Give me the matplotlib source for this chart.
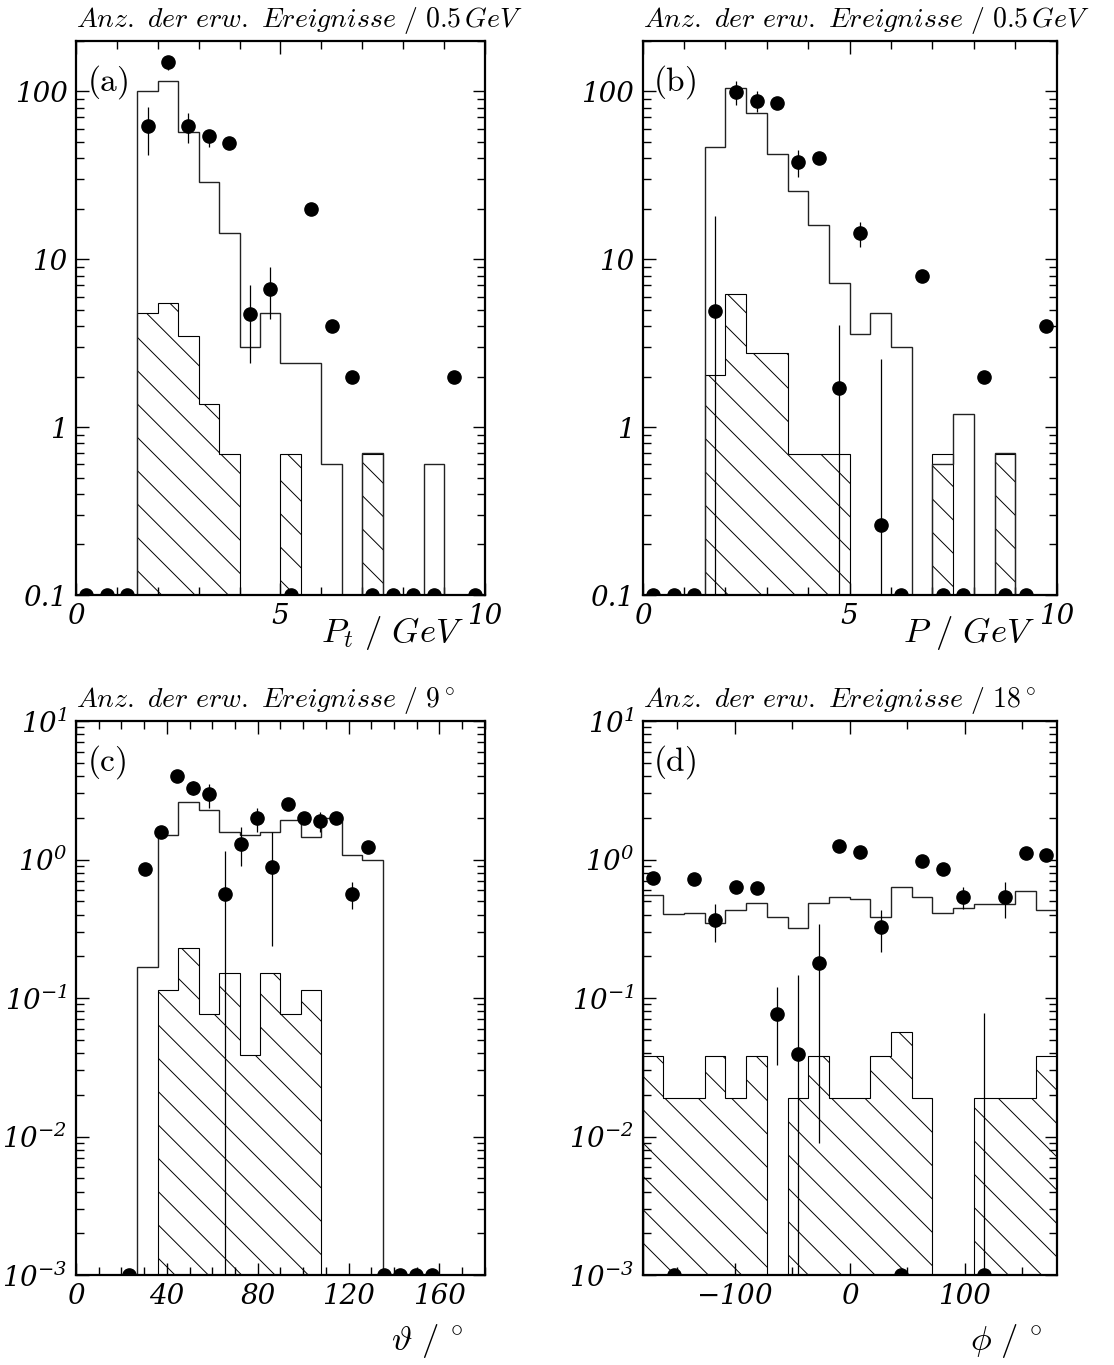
import numpy as np
import matplotlib
matplotlib.use("Agg")
import matplotlib.pyplot as plt
from matplotlib.ticker import FixedLocator, FixedFormatter, LogLocator, NullFormatter

# Tick-Beschriftungen kursiv (custom mathtext), sonstige Texte in Computer Modern
plt.rcParams['mathtext.fontset'] = 'custom'
plt.rcParams['mathtext.rm'] = 'DejaVu Serif:italic'
plt.rcParams['mathtext.it'] = 'DejaVu Serif:italic'
plt.rcParams['font.family'] = 'DejaVu Serif'
plt.rcParams['font.style'] = 'italic'
plt.rcParams['hatch.linewidth'] = 0.7
nan = np.nan

# =========================
# (a) Transversalimpuls, 0.5 GeV Bins
# =========================
pt_edges = np.arange(0, 10.01, 0.5)
pt_mc = [0, 0, 0, 101, 115, 57, 29, 14.4, 3.0, 4.8, 2.4, 2.4, 0.6, 0, 0.7, 0, 0, 0.6, 0, 0]
pt_bg = [0, 0, 0, 4.8, 5.5, 3.5, 1.38, 0.69, 0, 0, 0.69, 0, 0, 0, 0.69, 0, 0, 0, 0, 0]
pt_data = [0, 0, 0, 62, 150, 62, 54, 49, 4.7, 6.7, 0, 20, 4, 2, 0, 0, 0, 0, 2, 0]
pt_lo = [nan, nan, nan, 42, 135, 49, 47, nan, 2.4, 4.4, nan, nan, nan, nan, nan, nan, nan, nan, nan, nan]
pt_hi = [nan, nan, nan, 81, 161, 74, 59, nan, 7.0, 9.0, nan, nan, nan, nan, nan, nan, nan, nan, nan, nan]

# =========================
# (b) Impuls, 0.5 GeV Bins
# =========================
p_edges = np.arange(0, 10.01, 0.5)
p_mc = [0, 0, 0, 46.6, 105, 74, 42.6, 25.6, 16.1, 7.2, 3.6, 4.8, 3.0, 0, 0.6, 1.2, 0, 0.7, 0, 0]
p_bg = [0, 0, 0, 2.04, 6.2, 2.76, 2.76, 0.69, 0.69, 0.69, 0, 0, 0, 0, 0.69, 0, 0, 0.69, 0, 0]
p_data = [0, 0, 0, 4.9, 99, 88, 85, 38, 40, 1.7, 14.3, 0.26, 0, 8, 0, 0, 2, 0, 0, 4]
p_lo = [nan, nan, nan, 0, 83, 75, nan, 31, nan, 0, 11.8, 0, nan, nan, nan, nan, nan, nan, nan, nan]
p_hi = [nan, nan, nan, 18, 115, 100, nan, 45, nan, 4.05, 16.8, 2.55, nan, nan, nan, nan, nan, nan, nan, nan]

# =========================
# (c) Polarwinkel, 9 Grad Bins
# =========================
th_edges = np.arange(0, 181, 9)
th_mc = [0, 0, 0, 0.167, 1.51, 2.59, 2.28, 1.57, 1.50, 1.57, 1.93, 1.45, 2.0, 1.08, 1.0, 0, 0, 0, 0, 0]
th_bg = [0, 0, 0, 0, 0.115, 0.229, 0.077, 0.152, 0.0385, 0.152, 0.077, 0.115, 0, 0, 0, 0, 0, 0, 0, 0]
th_x = [23.5, 30.5, 37.5, 44.5, 51.5, 58.5, 65.5, 72.5, 79.5, 86.5,
        93.5, 100.5, 107.5, 114.5, 121.5, 128.5, 135.5, 142.5, 149.5, 156.5]
th_data = [0, 0.857, 1.59, 4.0, 3.27, 2.98, 0.565, 1.30, 2.0, 0.88,
           2.52, 2.0, 1.89, 2.0, 0.565, 1.23, 0, 0, 0, 0]
th_lo = [nan, nan, nan, nan, 2.9, 2.34, 0, 0.896, 1.57, 0.238, nan, nan, 1.57, nan, 0.438, nan, nan, nan, nan, nan]
th_hi = [nan, nan, nan, nan, 3.7, 3.49, 1.16, 1.71, 2.37, 1.57, nan, nan, 2.19, nan, 0.687, nan, nan, nan, nan, nan]

# =========================
# (d) Azimutwinkel, 18 Grad Bins
# =========================
phi_edges = np.arange(-180, 181, 18)
phi_mc = [0.557, 0.401, 0.414, 0.349, 0.435, 0.486, 0.385, 0.318, 0.486, 0.537,
          0.522, 0.385, 0.633, 0.537, 0.414, 0.450, 0.48, 0.48, 0.589, 0.435]
phi_bg = [0.038, 0.019, 0.019, 0.038, 0.019, 0.038, 0, 0.019, 0.038, 0.019,
          0.019, 0.038, 0.057, 0.019, 0, 0, 0.019, 0.019, 0.019, 0.038]
phi_data = [0.739, 0, 0.719, 0.365, 0.633, 0.626, 0.077, 0.0396, 0.178, 1.26,
            1.13, 0.327, 0, 0.973, 0.857, 0.537, 0, 0.537, 1.11, 1.08]
phi_lo = [nan, nan, nan, 0.255, nan, nan, 0.0326, 0, 0.009, nan, nan, 0.216, nan, nan, nan, 0.44, 0, 0.38, nan, nan]
phi_hi = [nan, nan, nan, 0.476, nan, nan, 0.121, 0.1455, 0.345, nan, nan, 0.435, nan, nan, nan, 0.63, 0.078, 0.69, nan, nan]

TINY = 1e-9


def panel(ax, edges, mc, bg, x, data, lo, hi, ylim):
    mc = np.array(mc, float)
    bg = np.array(bg, float)
    data = np.array(data, float)
    lo = np.array(lo, float)
    hi = np.array(hi, float)

    ax.stairs(np.where(bg > 0, bg, TINY), edges, baseline=TINY, fill=True,
              facecolor='white', edgecolor='black', hatch='\\', lw=0.8, zorder=1)
    ax.stairs(np.where(mc > 0, mc, TINY), edges, baseline=TINY, fill=False,
              color='#222222', lw=1.0, zorder=2)

    ok = ~np.isnan(hi)
    ax.vlines(np.asarray(x)[ok], np.maximum(lo[ok], TINY), hi[ok], color='black', lw=0.9, zorder=3)
    ax.plot(x, np.where(data > 0, data, ylim[0]), 'o', color='black', ms=9.5, zorder=4)

    ax.set_yscale('log')
    ax.set_ylim(*ylim)
    ax.set_xlim(edges[0], edges[-1])


def style(ax, xmaj, xlab, xmin, ymaj, ylab):
    ax.xaxis.set_major_locator(FixedLocator(xmaj))
    ax.xaxis.set_major_formatter(FixedFormatter(xlab))
    ax.xaxis.set_minor_locator(FixedLocator(xmin))
    ax.yaxis.set_major_locator(FixedLocator(ymaj))
    ax.yaxis.set_major_formatter(FixedFormatter(ylab))
    ax.yaxis.set_minor_locator(LogLocator(base=10, subs=np.arange(2, 10), numticks=20))
    ax.yaxis.set_minor_formatter(NullFormatter())
    ax.tick_params(which='both', direction='in', top=True, right=True, labelsize=20)
    ax.tick_params(which='major', length=9, width=1.0)
    ax.tick_params(which='minor', length=5.5, width=1.0)
    ax.tick_params(axis='x', pad=6)
    ax.tick_params(axis='y', pad=6)
    for s in ax.spines.values():
        s.set_linewidth(1.6)


fig = plt.figure(figsize=(11.14, 13.65), dpi=100)
axa = fig.add_axes([0.0682, 0.5641, 0.3671, 0.4059])
axb = fig.add_axes([0.5769, 0.5641, 0.3716, 0.4059])
axc = fig.add_axes([0.0682, 0.0659, 0.3671, 0.4059])
axd = fig.add_axes([0.5769, 0.0659, 0.3716, 0.4059])

pt_x = 0.5 * (pt_edges[:-1] + pt_edges[1:])
p_x = 0.5 * (p_edges[:-1] + p_edges[1:])
phi_x = 0.5 * (phi_edges[:-1] + phi_edges[1:])

panel(axa, pt_edges, pt_mc, pt_bg, pt_x, pt_data, pt_lo, pt_hi, (0.1, 200))
panel(axb, p_edges, p_mc, p_bg, p_x, p_data, p_lo, p_hi, (0.1, 200))
panel(axc, th_edges, th_mc, th_bg, th_x, th_data, th_lo, th_hi, (1e-3, 10))
panel(axd, phi_edges, phi_mc, phi_bg, phi_x, phi_data, phi_lo, phi_hi, (1e-3, 10))

ylab_ab = ['0.1', '1', '10', '100']
ylab_cd = [r'$10^{-3}$', r'$10^{-2}$', r'$10^{-1}$', r'$10^{0}$', r'$10^{1}$']

for ax in (axa, axb):
    style(ax, [0, 5, 10], ['0', '5', '10'], np.arange(0, 11, 1), [0.1, 1, 10, 100], ylab_ab)
style(axc, [0, 40, 80, 120, 160], ['0', '40', '80', '120', '160'],
      np.arange(0, 181, 10), [1e-3, 1e-2, 1e-1, 1, 10], ylab_cd)
style(axd, [-100, 0, 100], [r'$-100$', '0', '100'],
      [-150, -50, 50, 150], [1e-3, 1e-2, 1e-1, 1, 10], ylab_cd)

titles = [r'$Anz.\ der\ erw.\ Ereignisse\ /\ 0.5\,GeV$',
          r'$Anz.\ der\ erw.\ Ereignisse\ /\ 0.5\,GeV$',
          r'$Anz.\ der\ erw.\ Ereignisse\ /\ 9\,{}^{\circ}$',
          r'$Anz.\ der\ erw.\ Ereignisse\ /\ 18\,{}^{\circ}$']
tags = ['(a)', '(b)', '(c)', '(d)']
for ax, t, tag in zip((axa, axb, axc, axd), titles, tags):
    ax.text(0.0, 1.026, t, transform=ax.transAxes, ha='left', va='baseline',
            fontsize=20, math_fontfamily='cm')
    ax.text(0.026, 0.96, r'$\mathrm{%s}$' % tag, transform=ax.transAxes, ha='left', va='top',
            fontsize=24, math_fontfamily='cm')

lab = dict(ha='left', va='baseline', fontsize=25, math_fontfamily='cm')
axa.text(0.60, -0.085, r'$P_t\ /\ GeV$', transform=axa.transAxes, **lab)
axb.text(0.63, -0.085, r'$P\ /\ GeV$', transform=axb.transAxes, **lab)
axc.text(0.77, -0.135, r'$\vartheta\ /\ {}^{\circ}$', transform=axc.transAxes, **lab)
axd.text(0.79, -0.135, r'$\phi\ /\ {}^{\circ}$', transform=axd.transAxes, **lab)

plt.savefig('out.png', dpi=100)
